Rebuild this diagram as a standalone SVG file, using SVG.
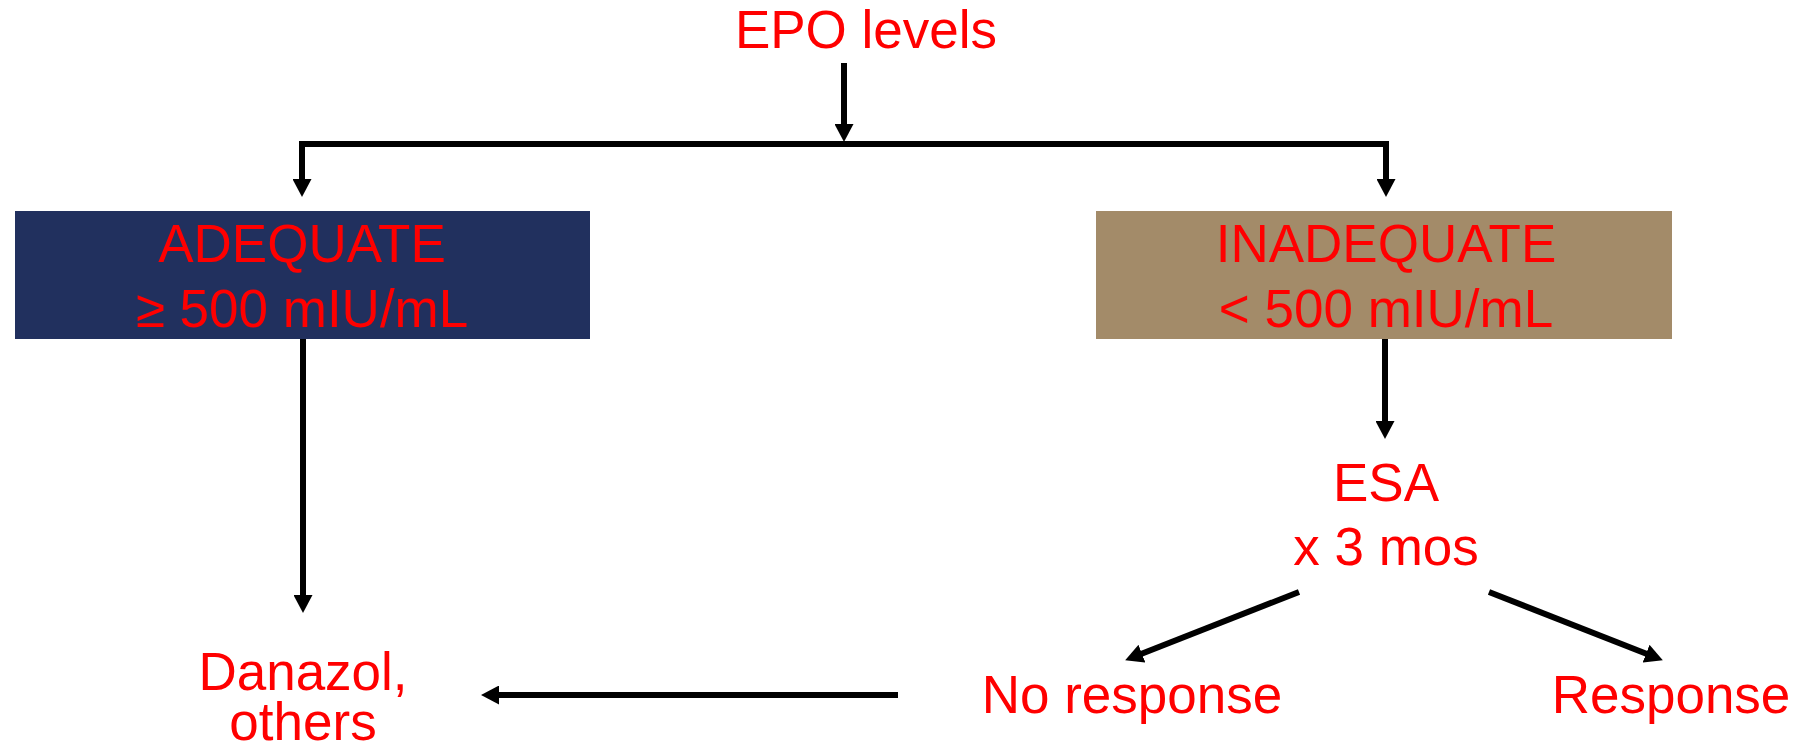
<svg xmlns="http://www.w3.org/2000/svg" width="1803" height="745" viewBox="0 0 1803 745">
<style>
.t{font-family:"Liberation Sans",Arial,sans-serif;font-size:53px;fill:#FF0000;text-anchor:middle}
.c{fill:none;stroke:#000;stroke-width:6;stroke-linejoin:miter}
</style>
<defs>
<marker id="ah" markerUnits="userSpaceOnUse" markerWidth="19" markerHeight="19" refX="1" refY="9.5" orient="auto" viewBox="0 0 19 19">
<path d="M0,0 L18,9.5 L0,19 z" fill="#000"/>
</marker>
</defs>
<rect width="1803" height="745" fill="#fff"/>
<g id="connectors">
<path class="c" d="M844,63 L844,125" marker-end="url(#ah)"/>
<path class="c" d="M844,144 L302,144 L302,180" marker-end="url(#ah)"/>
<path class="c" d="M844,144 L1386,144 L1386,180" marker-end="url(#ah)"/>
<path class="c" d="M303,339 L303,596" marker-end="url(#ah)"/>
<path class="c" d="M1385,339 L1385,422" marker-end="url(#ah)"/>
<path class="c" d="M1299,592 L1141,654" marker-end="url(#ah)"/>
<path class="c" d="M1489,592 L1647,654" marker-end="url(#ah)"/>
<path class="c" d="M898,695 L498,695" marker-end="url(#ah)"/>
</g>
<g id="epo"><text class="t" x="866" y="48">EPO levels</text></g>
<g id="adequate">
<rect x="15" y="211" width="575" height="128" fill="#21305E"/>
<text class="t" x="302" y="262">ADEQUATE</text>
<text class="t" x="302" y="327">≥ 500 mIU/mL</text>
</g>
<g id="inadequate">
<rect x="1096" y="211" width="576" height="128" fill="#A38B69"/>
<text class="t" x="1386" y="262">INADEQUATE</text>
<text class="t" x="1386" y="327">&lt; 500 mIU/mL</text>
</g>
<g id="esa">
<text class="t" x="1386" y="501">ESA</text>
<text class="t" x="1386" y="565">x 3 mos</text>
</g>
<g id="danazol">
<text class="t" x="303" y="690">Danazol,</text>
<text class="t" x="303" y="740">others</text>
</g>
<g id="noresponse"><text class="t" x="1132" y="713">No response</text></g>
<g id="response"><text class="t" x="1671" y="713">Response</text></g>
</svg>
